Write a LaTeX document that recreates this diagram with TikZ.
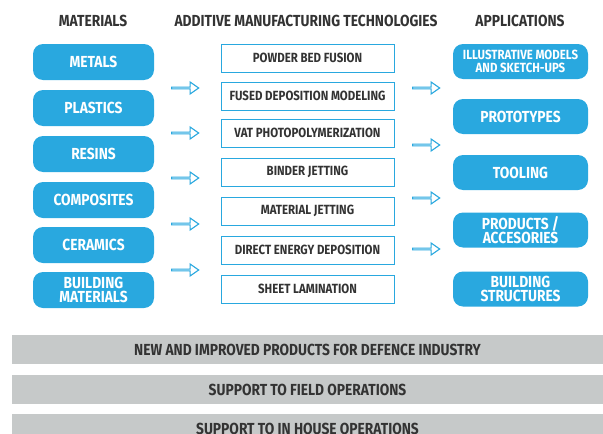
\documentclass[tikz,border=0pt]{standalone}
\usepackage{fontspec}
\setmainfont[FakeStretch=0.86]{Fira Sans}
\usetikzlibrary{shapes.arrows}
\definecolor{amblue}{HTML}{29A8DF}
\definecolor{amgray}{HTML}{C6C9C9}
\definecolor{amtext}{HTML}{333333}
\tikzset{
  header/.style={font=\bfseries\fontsize{16}{18}\selectfont, text=amtext},
  material/.style={fill=amblue, rounded corners=10pt, minimum width=121pt, minimum height=36pt,
    inner sep=0pt, align=center, text=white, font=\bfseries\fontsize{16}{14.5}\selectfont},
  tech/.style={draw=amblue, line width=1pt, fill=white, minimum width=173pt, minimum height=28pt,
    inner sep=0pt, text=amtext, font=\bfseries\fontsize{13.3}{14}\selectfont},
  application/.style={fill=amblue, rounded corners=10pt, minimum width=135pt, minimum height=35pt,
    inner sep=0pt, align=center, text=white, font=\bfseries\fontsize{16}{14.5}\selectfont},
  smallapp/.style={application, font=\bfseries\fontsize{13.3}{12.5}\selectfont},
  flow/.style={single arrow, draw=amblue, line width=1.1pt, fill=white, minimum width=12pt,
    minimum height=27pt, single arrow head extend=3pt, single arrow tip angle=70, inner sep=0pt},
  impact/.style={fill=amgray, minimum width=591pt, minimum height=29pt, inner sep=0pt,
    text=amtext, font=\bfseries\fontsize{16}{16}\selectfont},
}
\begin{document}
\begin{tikzpicture}[x=1pt,y=-1pt]
\useasboundingbox (0,0) rectangle (603,434);
\begin{scope}
\clip (0,0) rectangle (603,434);

% column headings
\node[header] (hmat) at (93,21) {MATERIALS};
\node[header] (htech) at (306,21) {ADDITIVE MANUFACTURING TECHNOLOGIES};
\node[header] (happ) at (520,21) {APPLICATIONS};

% materials
\node[material] (m1) at (93.5,62) {METALS};
\node[material] (m2) at (93.5,108) {PLASTICS};
\node[material] (m3) at (93.5,154) {RESINS};
\node[material] (m4) at (93.5,200) {COMPOSITES};
\node[material] (m5) at (93.5,245) {CERAMICS};
\node[material] (m6) at (93.5,290) {BUILDING\\MATERIALS};

% technologies
\node[tech] (t1) at (307.5,58) {POWDER BED FUSION};
\node[tech] (t2) at (307.5,96) {FUSED DEPOSITION MODELING};
\node[tech] (t3) at (307.5,133) {VAT PHOTOPOLYMERIZATION};
\node[tech] (t4) at (307.5,172) {BINDER JETTING};
\node[tech] (t5) at (307.5,211) {MATERIAL JETTING};
\node[tech] (t6) at (307.5,250) {DIRECT ENERGY DEPOSITION};
\node[tech] (t7) at (307.5,289) {SHEET LAMINATION};

% applications
\node[smallapp] (a1) at (520.5,61.5) {ILLUSTRATIVE MODELS\\AND SKETCH-UPS};
\node[application] (a2) at (520.5,116.5) {PROTOTYPES};
\node[application] (a3) at (520.5,172.5) {TOOLING};
\node[application] (a4) at (520.5,230) {PRODUCTS /\\ACCESORIES};
\node[application] (a5) at (520.5,289) {BUILDING\\STRUCTURES};

% flow arrows between the columns
\foreach \y [count=\i] in {88,133,178,224,270}
  \node[flow] (fl\i) at (184.5,\y) {};
\foreach \y [count=\i] in {88,145,198,249}
  \node[flow] (fr\i) at (425.5,\y) {};

% impact bars
\node[impact] (b1) at (307.5,349.5) {NEW AND IMPROVED PRODUCTS FOR DEFENCE INDUSTRY};
\node[impact] (b2) at (307.5,389.5) {SUPPORT TO FIELD OPERATIONS};
\node[impact] (b3) at (307.5,428.5) {SUPPORT TO IN HOUSE OPERATIONS};
\end{scope}
\end{tikzpicture}
\end{document}
